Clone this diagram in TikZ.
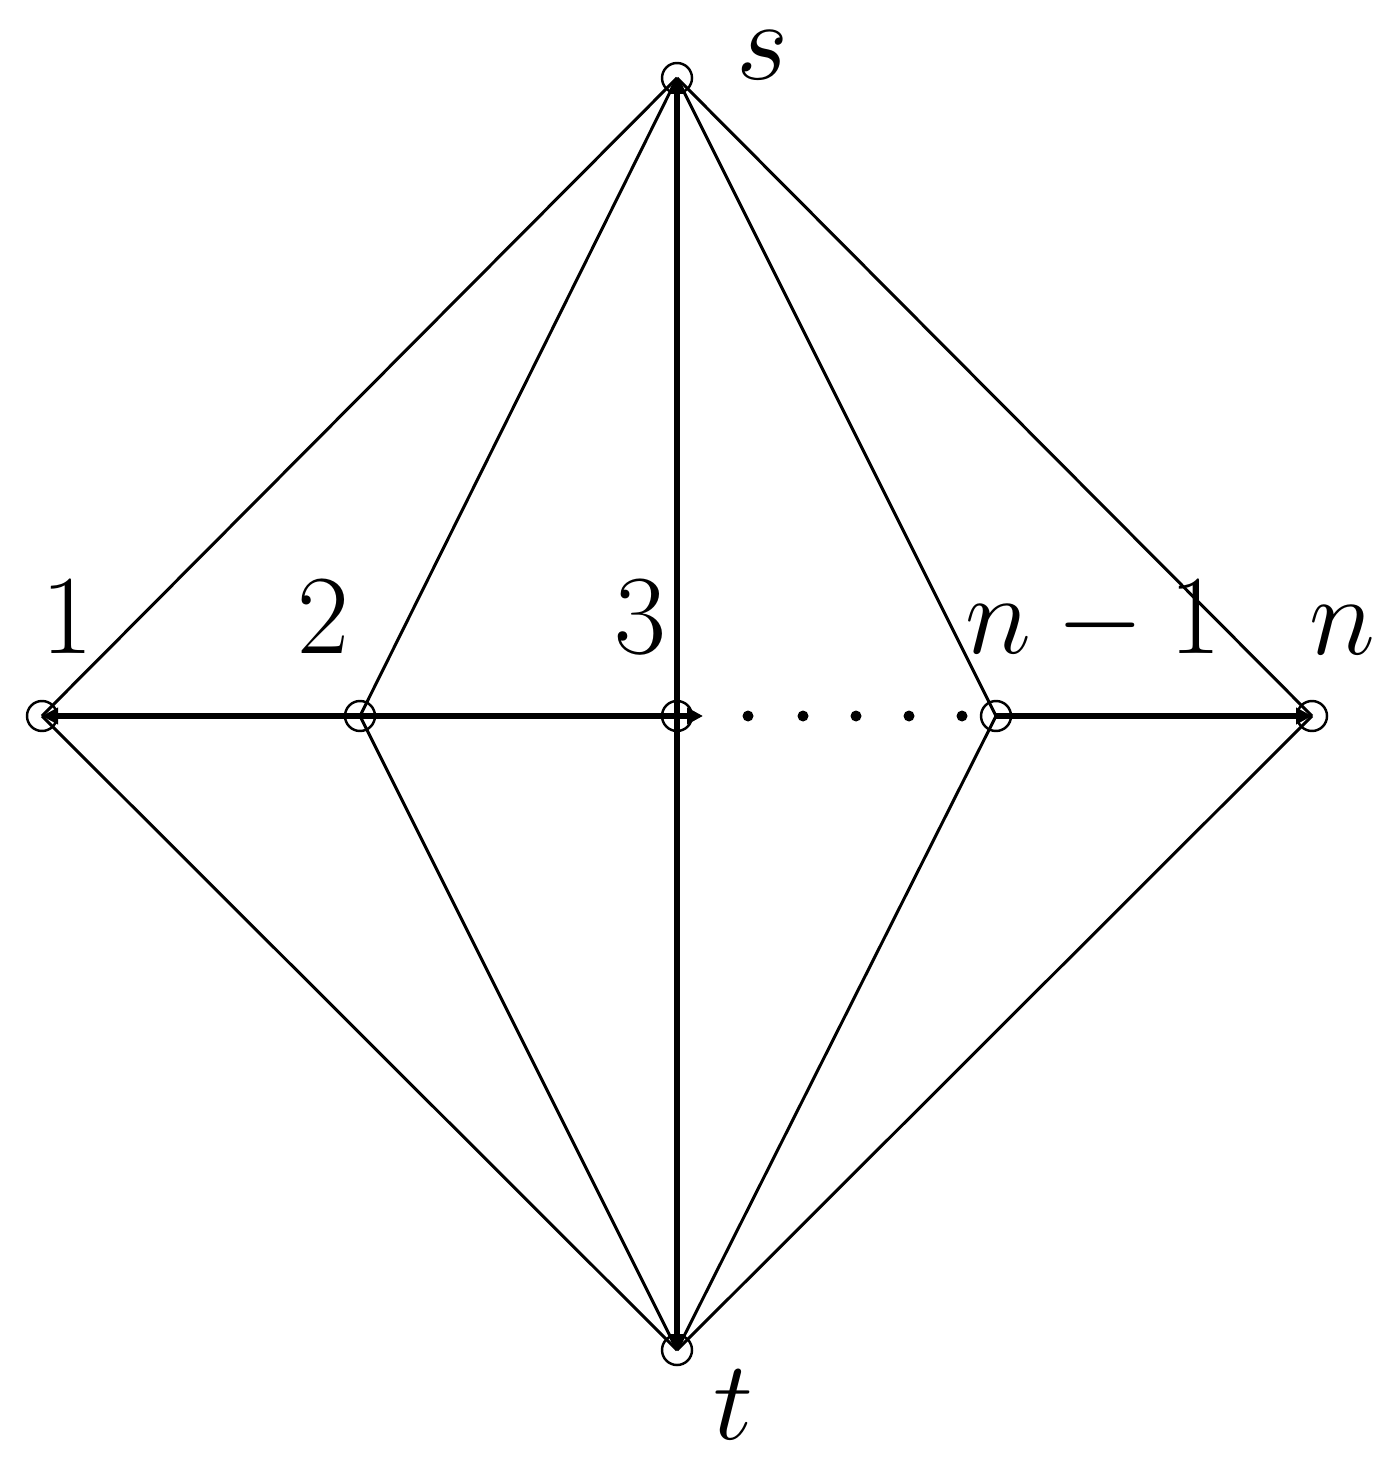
\documentclass[tikz,border=0pt]{standalone}
\usetikzlibrary{arrows.meta}
\begin{document}
\begin{tikzpicture}[
  vtx/.style={circle,draw,line width=0.7pt,minimum size=0.3cm,inner sep=0pt},
  thin edge/.style={line width=0.85pt},
  thick edge/.style={line width=1.9pt,-{Triangle[length=0.16cm,width=0.16cm]}},
  lbl/.style={inner sep=0pt,scale=1.29,font=\fontsize{24.88}{30}\selectfont}
]
\useasboundingbox (0,0) rectangle (13.95,-14.73);
\node[vtx] (s) at (6.77,-0.78) {};
\node[vtx] (t) at (6.77,-13.50) {};
\node[vtx] (v1) at (0.42,-7.16) {};
\node[vtx] (v2) at (3.60,-7.16) {};
\node[vtx] (v3) at (6.77,-7.16) {};
\node[vtx] (vm) at (9.96,-7.16) {};
\node[vtx] (vn) at (13.12,-7.16) {};
\coordinate (d0) at (7.03,-7.16);
% labels
\node[lbl] (ls) at (7.62,-0.55) {$s$};
\node[lbl] (lt) at (7.33,-14.05) {$t$};
\node[lbl] (l1) at (0.67,-6.17) {$1$};
\node[lbl] (l2) at (3.23,-6.17) {$2$};
\node[lbl] (l3) at (6.40,-6.17) {$3$};
\node[lbl] (lm) at (10.93,-6.22) {$n-1$};
\node[lbl] (ln) at (13.42,-6.30) {$n$};
% thin edges
\foreach \v in {v1,v2,vm,vn}{
  \draw[thin edge] (s.center) -- (\v.center);
  \draw[thin edge] (t.center) -- (\v.center);
}
% thick edges
\draw[thick edge] (v3.center) -- (s.center);
\draw[thick edge] (v3.center) -- (t.center);
\draw[thick edge] (v2.center) -- (v1.center);
\draw[line width=1.9pt] (v3.center) -- (v2.center);
\draw[thick edge] (vm.center) -- (vn.center);
\draw[thick edge] (v3.center) -- (d0);
% dots
\foreach \x in {7.48,8.03,8.56,9.09,9.62}{
  \fill (\x,-7.16) circle (0.055);
}
\end{tikzpicture}
\end{document}
